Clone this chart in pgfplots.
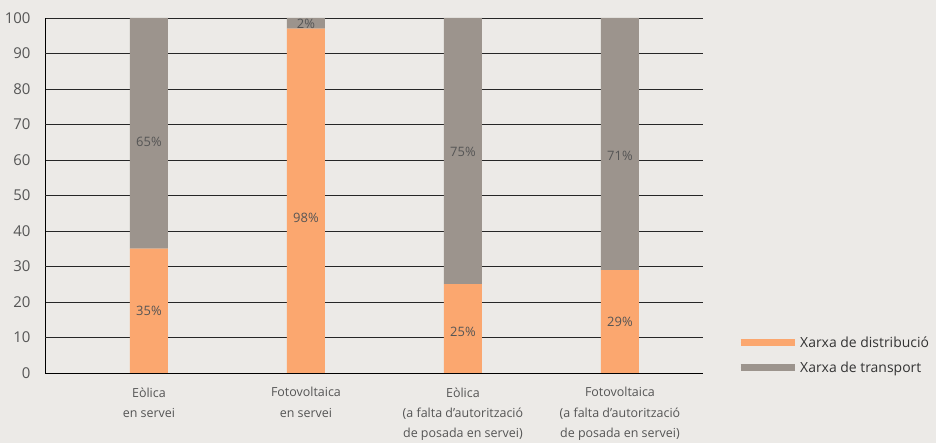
\documentclass[border=0pt]{standalone}
\usepackage{pgfplots}
\pgfplotsset{compat=1.18}
\usepackage{fontspec}
\setmainfont{Open Sans}
\definecolor{bg}{HTML}{ECEAE7}
\definecolor{orangebar}{HTML}{FBA76F}
\definecolor{graybar}{HTML}{9C948D}
\definecolor{txt}{HTML}{555555}
\definecolor{leg}{HTML}{333333}
\pgfplotsset{myframe/.style={
  at={(45bp,70bp)}, anchor=south west,
  width=658bp, height=355bp, scale only axis,
  xmin=-0.662, xmax=3.529, ymin=0, ymax=100}}
\begin{document}
\begin{tikzpicture}[x=1bp,y=1bp]
\fill[bg] (0,0) rectangle (936,443);
\begin{axis}[
  myframe,
  ybar stacked, bar width=38bp,
  axis x line*=bottom, axis y line*=left,
  x axis line style={-, black, line width=0.8pt},
  y axis line style={-, black, line width=0.8pt},
  ytick={0,20,...,100},
  extra y ticks={10,30,50,70,90},
  ymajorgrids,
  major grid style={black!85, line width=0.8pt},
  extra y tick style={grid style={gray!85, line width=0.8pt}},
  major tick length=0pt,
  xtick={0,1,2,3},
  xticklabels={{Eòlica\\en servei},{Fotovoltaica\\en servei},{Eòlica\\(a falta d’autorització\\de posada en servei)},{Fotovoltaica\\(a falta d’autorització\\de posada en servei)}},
  xticklabel style={align=center, text=txt, font=\fontsize{12.5}{20.5}\selectfont, yshift=-11bp},
  yticklabel style={text=txt, font=\fontsize{15}{16}\selectfont, xshift=-11bp},
  /pgf/number format/assume math mode=true,
  legend style={draw=none, fill=none, at={(1,0)}, anchor=south west, xshift=34bp, yshift=-3bp,
    font=\fontsize{14}{16}\selectfont, text=leg, row sep=9bp, inner sep=0pt},
  legend cell align=left,
  legend image code/.code={\draw[line width=7bp] (0bp,0bp) -- (54bp,0bp);},
]
\addplot[fill=orangebar, draw=none, orangebar] coordinates {(0,35) (1,97) (2,25) (3,29)};
\addlegendentry{Xarxa de distribució}
\addplot[fill=graybar, draw=none, graybar] coordinates {(0,65) (1,3) (2,75) (3,71)};
\addlegendentry{Xarxa de transport}
\end{axis}
\begin{axis}[myframe, hide axis,
  every node near coord/.append style={anchor=center, text=txt, font=\fontsize{13}{15}\selectfont}]
\addplot[only marks, mark=none, nodes near coords, point meta=explicit symbolic]
  coordinates {(0,17.5)[35\%] (0,65.1)[65\%] (1,43.7)[98\%] (1,98.3)[2\%] (2,11.5)[25\%] (2,62.3)[75\%] (3,14.4)[29\%] (3,61.1)[71\%]};
\end{axis}
\pgfresetboundingbox
\path[use as bounding box] (0,0) rectangle (936,443);
\end{tikzpicture}
\end{document}
